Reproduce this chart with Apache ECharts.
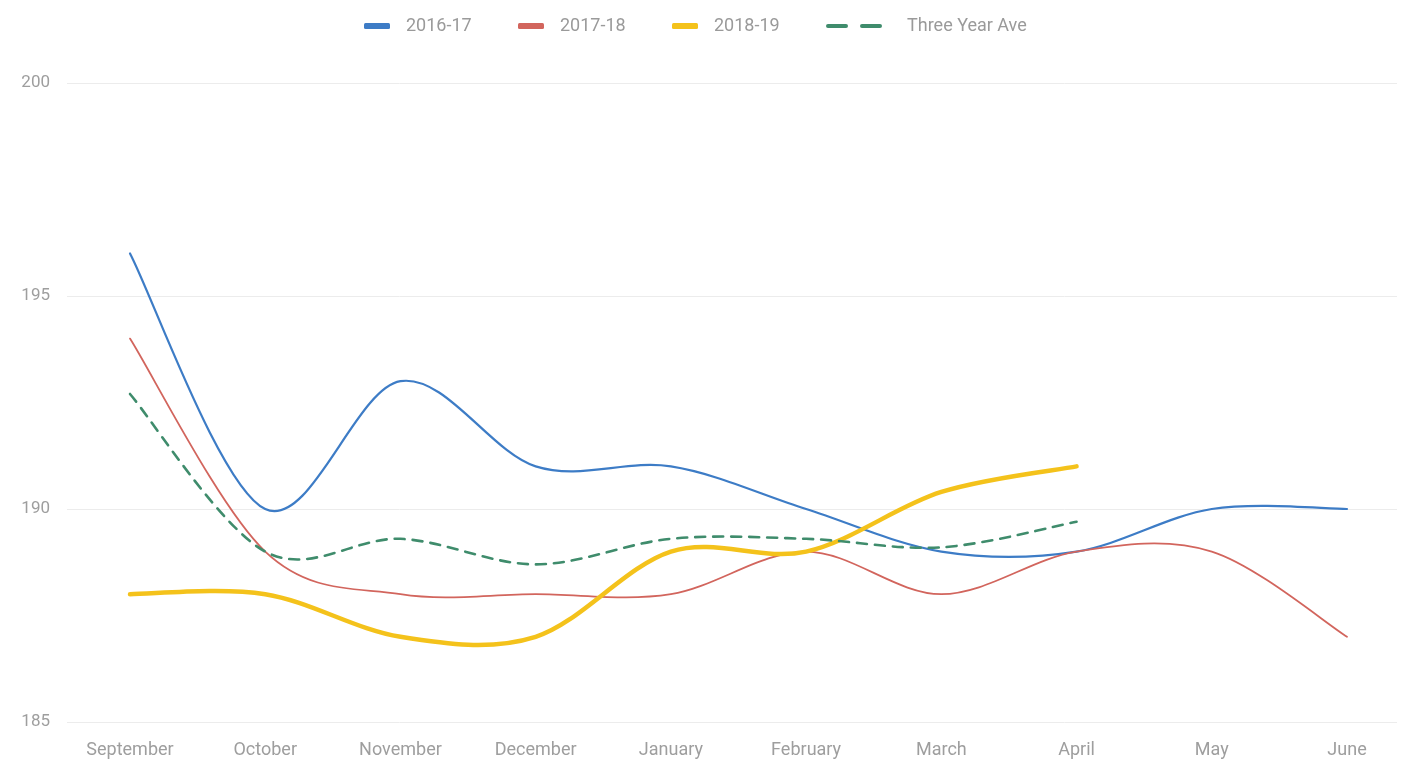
<!DOCTYPE html>
<html>
<head>
<meta charset="utf-8">
<script src="https://cdn.jsdelivr.net/npm/echarts@6/dist/echarts.min.js"></script>
<style>
html,body{margin:0;padding:0;background:#fff;}
#chart{width:1409px;height:763px;}
</style>
</head>
<body>
<div id="chart"></div>
<script>
var months = ['September','October','November','December','January','February','March','April','May','June'];
var s2016_17 = [196, 190, 193, 191, 191, 190, 189, 189, 190, 190];
var s2017_18 = [194, 189, 188, 188, 188, 189, 188, 189, 189, 187];
var s2018_19 = [188, 188, 187, 187, 189, 189, 190.4, 191];
var threeYearAve = [192.7, 189, 189.3, 188.7, 189.3, 189.3, 189.1, 189.7];
var yTicks = [185, 190, 195, 200];

var FONT = 'Roboto';
var COLORS = {b: '#3d7cc6', r: '#d2655d', y: '#f4c21b', g: '#3f8c6c'};

function smoothSeries(name, values, color, width, dash) {
  return {
    name: name, type: 'custom', xAxisIndex: 1, yAxisIndex: 1, silent: true, clip: false,
    color: color, itemStyle: {color: color},
    data: values.map(function (v, i) { return [i, v]; }),
    encode: {x: 0, y: 1},
    renderItem: function (params, api) {
      if (params.dataIndex !== 0) return null;
      var pts = values.map(function (v, i) { return api.coord([i, v]); });
      var t = 1 / 6;
      var d = 'M' + pts[0][0] + ',' + pts[0][1];
      for (var i = 0; i < pts.length - 1; i++) {
        var p0 = pts[i - 1] || pts[i], p1 = pts[i], p2 = pts[i + 1], p3 = pts[i + 2] || pts[i + 1];
        var c1x = p1[0] + (p2[0] - p0[0]) * t, c1y = p1[1] + (p2[1] - p0[1]) * t;
        var c2x = p2[0] - (p3[0] - p1[0]) * t, c2y = p2[1] - (p3[1] - p1[1]) * t;
        d += ' C' + c1x + ',' + c1y + ' ' + c2x + ',' + c2y + ' ' + p2[0] + ',' + p2[1];
      }
      return {
        type: 'path',
        shape: {pathData: d},
        style: {fill: 'none', stroke: color, lineWidth: width, lineDash: dash || null, lineCap: 'round', lineJoin: 'round'}
      };
    }
  };
}

function legendAt(left, name, icon, w, pad) {
  return {
    top: 17, left: left, itemWidth: w, itemHeight: 6, padding: 0,
    textStyle: {color: '#9a9a9a', fontSize: 18, fontFamily: FONT, padding: [0, 0, 0, pad]},
    data: [{name: name, icon: icon}]
  };
}

var chart = echarts.init(document.getElementById('chart'), null, {renderer:'canvas'});
var option = {
  animation: false,
  backgroundColor: '#ffffff',
  legend: [
    legendAt(364, '2016-17', 'roundRect', 26, 11),
    legendAt(518, '2017-18', 'roundRect', 26, 11),
    legendAt(672, '2018-19', 'roundRect', 26, 11),
    legendAt(826, 'Three Year Ave', 'path://M2,0H20A2,2 0 0 1 20,4H2A2,2 0 0 1 2,0Z M36,0H54A2,2 0 0 1 54,4H36A2,2 0 0 1 36,0Z', 56, 20)
  ],
  grid: [
    {left: 67, right: 12, top: 83, bottom: 41},
    {left: 130, right: 62, top: 83, bottom: 41}
  ],
  xAxis: [
    {gridIndex: 0, type: 'category', data: months, show: false},
    {gridIndex: 1, type: 'category', data: months, boundaryGap: false,
     axisLine: {show: false}, axisTick: {show: false}, splitLine: {show: false},
     axisLabel: {color: '#9e9e9e', fontSize: 18, fontFamily: FONT, margin: 19, interval: 0}}
  ],
  yAxis: [
    {gridIndex: 0, type: 'value', min: yTicks[0], max: yTicks[yTicks.length-1], interval: 5,
     axisLine: {show: false}, axisTick: {show: false},
     splitLine: {lineStyle: {color: '#ececec', width: 1}},
     axisLabel: {color: '#9e9e9e', fontSize: 17, fontFamily: FONT, margin: 17}},
    {gridIndex: 1, type: 'value', min: yTicks[0], max: yTicks[yTicks.length-1], interval: 5, show: false,
     splitLine: {show: false}}
  ],
  series: [
    smoothSeries('2016-17', s2016_17, COLORS.b, 2.2),
    smoothSeries('2017-18', s2017_18, COLORS.r, 1.8),
    smoothSeries('2018-19', s2018_19, COLORS.y, 4.5),
    smoothSeries('Three Year Ave', threeYearAve, COLORS.g, 2.6, [10, 8])
  ]
};
chart.setOption(option);
</script>
</body>
</html>
